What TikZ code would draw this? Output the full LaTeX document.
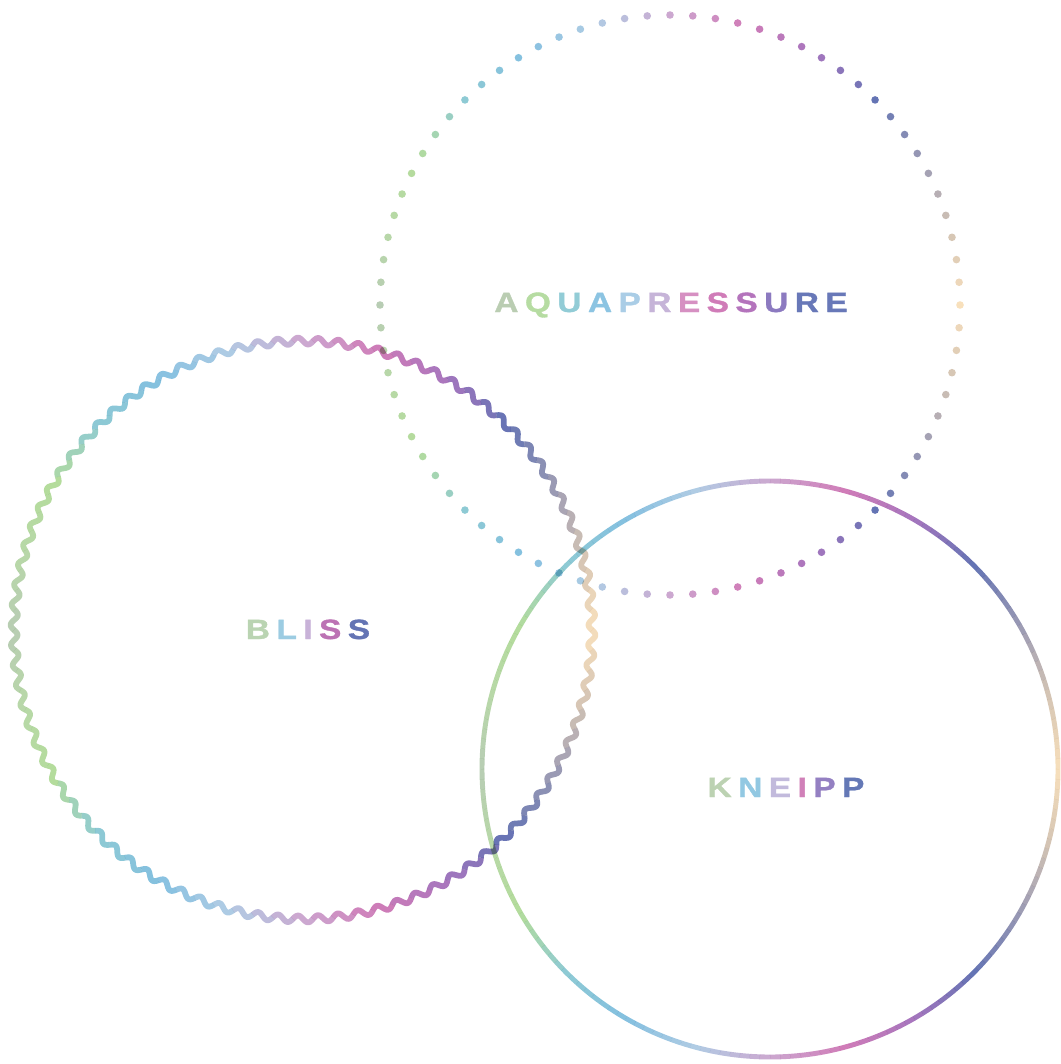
\documentclass[tikz,border=0pt]{standalone}
\usepackage{fontspec}
\usepackage{xcolor}
\newfontfamily\labelfont[FakeStretch=1.2, FakeBold=1.2]{Liberation Sans Bold}
\definecolor{rb0}{HTML}{B8CDB4}
\definecolor{rb1}{HTML}{B8D8A8}
\definecolor{rb2}{HTML}{B4DC9C}
\definecolor{rb3}{HTML}{8ECAD4}
\definecolor{rb4}{HTML}{84C0E0}
\definecolor{rb5}{HTML}{B0CCE4}
\definecolor{rb6}{HTML}{CCA8D0}
\definecolor{rb7}{HTML}{D07CB8}
\definecolor{rb8}{HTML}{A676BE}
\definecolor{rb9}{HTML}{6474B4}
\definecolor{rb10}{HTML}{9A9AB4}
\definecolor{rb11}{HTML}{D4C4B4}
\definecolor{rb12}{HTML}{F8E0BC}
\newcommand\lsp{4.6pt}
\newcommand\ltr[2]{\textcolor[HTML]{#1}{#2}\kern\lsp}
\newcommand\lst[2]{\textcolor[HTML]{#1}{#2}}
\newcommand\rbcolor[1]{%
  \pgfmathsetmacro\rbphi{#1<=180 ? 180-#1 : #1-180}%
  \pgfmathtruncatemacro\rbk{min(floor(\rbphi/15),11)}%
  \pgfmathtruncatemacro\rbkk{\rbk+1}%
  \pgfmathtruncatemacro\rbpct{round(100*(1+\rbk-\rbphi/15))}%
  \colorlet{rbnow}{rb\rbk!\rbpct!rb\rbkk}}

\begin{document}
\begin{tikzpicture}[x=0.025cm, y=-0.025cm,
    kneippline/.style={line width=3.5pt, line cap=butt},
    blissline/.style={line width=4.1pt, line cap=butt, line join=round},
    every node/.style={font=\labelfont\fontsize{19.8}{24}\selectfont, inner sep=0pt}]
  \useasboundingbox (0,0) rectangle (1060,1064);
  \coordinate (cAqua) at (670,305);
  \coordinate (cBliss) at (303,630);
  \coordinate (cKneipp) at (770,769);
  \begin{scope}[blend mode=multiply]
    \foreach \i in {0,...,79} {
      \pgfmathsetmacro\a{4.5*\i}
      \rbcolor{\a}
      \fill[rbnow] ([shift={(\a:290)}]cAqua) circle[radius=3.8];
    }
    \foreach \a in {0,4,...,356} {
      \pgfmathsetmacro\am{\a+2}
      \rbcolor{\am}
      \draw[blissline, draw=rbnow, shift={(303,630)}]
        plot[domain=\a:\a+4, samples=13, smooth] (\x:{289+3.5*sin(90*(\x-\a))});
    }
    \foreach \a in {0,2,...,358} {
      \pgfmathsetmacro\am{\a+1}
      \rbcolor{\am}
      \draw[kneippline, draw=rbnow] ([shift={(\a:288)}]cKneipp)
        arc[start angle=\a, delta angle=2, radius=288];
    }
  \end{scope}
  \node[anchor=base] (tAqua) at (671,312) {\ltr{BACDB2}{A}\ltr{B6DCA2}{Q}\ltr{92CCD6}{U}%
    \ltr{8CC4E2}{A}\ltr{AACDE6}{P}\ltr{C6B4D8}{R}\ltr{D690C2}{E}\ltr{D07CB8}{S}%
    \ltr{B474BC}{S}\ltr{8C7AC0}{U}\ltr{6878B8}{R}\lst{6878B8}{E}};
  \node[anchor=base] (tBliss) at (308,639) {\ltr{BAD4B2}{B}\ltr{9CCCE2}{L}%
    \ltr{C8B2D8}{I}\ltr{BC72B4}{S}\lst{6474B4}{S}};
  \node[anchor=base] (tKneipp) at (786,797) {\ltr{BCD2B2}{K}\ltr{92C8E2}{N}%
    \ltr{C2BADC}{E}\ltr{D080B8}{I}\ltr{9480C2}{P}\lst{6478B6}{P}};
\end{tikzpicture}
\end{document}
